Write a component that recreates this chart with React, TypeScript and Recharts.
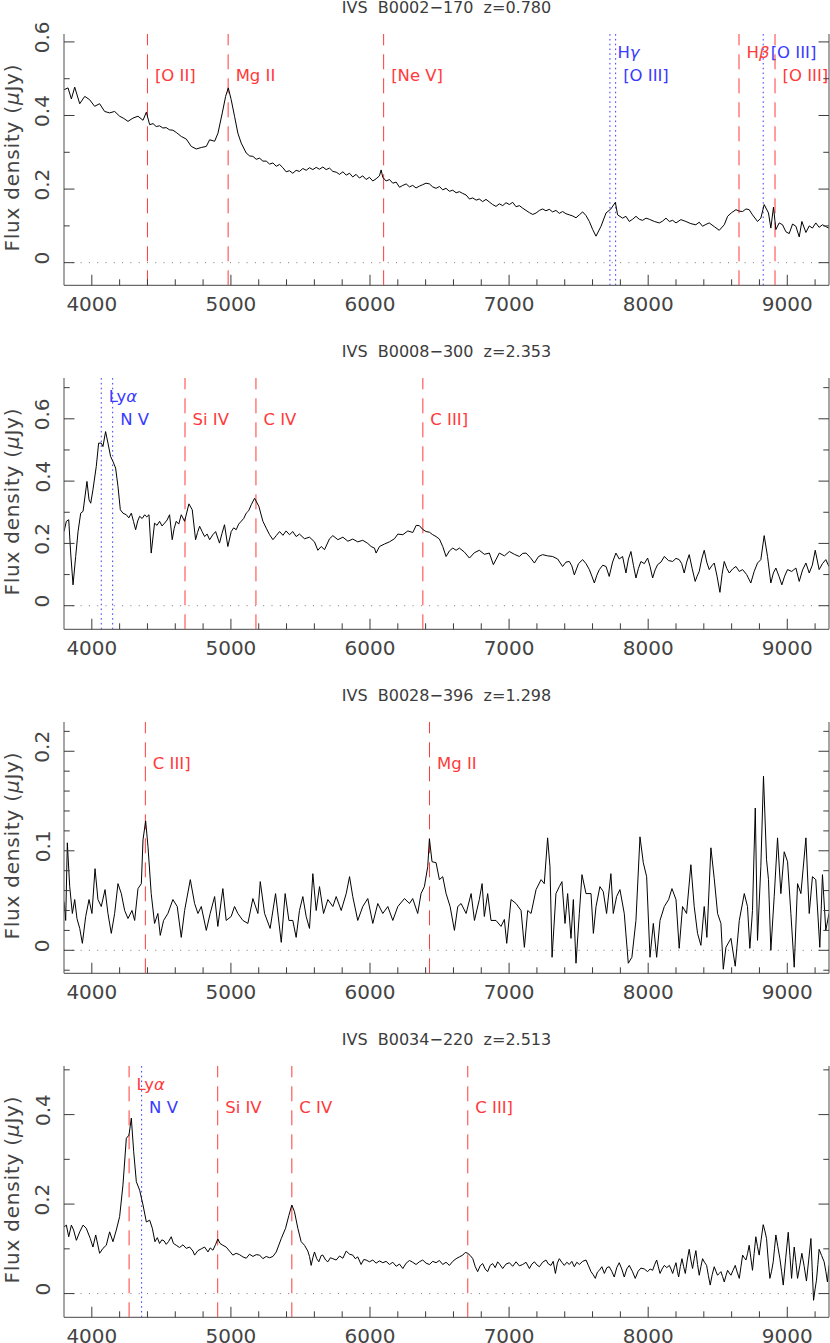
import React from 'react';
import { LineChart, Line, XAxis, YAxis, ReferenceLine } from 'recharts';

const FONT = '"DejaVu Sans", "Liberation Sans", sans-serif';
const TEXT = '#444444';
const FRAME = '#6b6b6b';
const TICK = '#3a3a3a';
const RED = '#ff3a3a';
const BLUE = '#3a3aff';

// ---------- axes ----------
const X_DOMAIN = [3800, 9300];
const X_MAJOR = [4000, 5000, 6000, 7000, 8000, 9000];
const X_MINOR = [4200, 4400, 4600, 4800, 5200, 5400, 5600, 5800, 6200, 6400, 6600, 6800, 7200, 7400, 7600, 7800, 8200, 8400, 8600, 8800, 9200];

// ---------- panel 1 : IVS B0002-170 ([wavelength Å, flux μJy]) ----------
const P1_TITLE = 'IVS  B0002−170  z=0.780';
const P1_Y_DOMAIN = [-0.0615, 0.6215];
const P1_Y_MAJOR = [0, 0.2, 0.4, 0.6];
const P1_Y_MINOR = [0.1, 0.3, 0.5];
const P1_SPECTRUM: [number, number][] = [
  [3800, 0.470], [3829, 0.475], [3853, 0.445], [3877, 0.477], [3913, 0.432], [3949, 0.452], [3984, 0.443], [4020, 0.425],
  [4056, 0.432], [4092, 0.411], [4128, 0.407], [4164, 0.411], [4200, 0.398], [4230, 0.392], [4260, 0.384], [4296, 0.393],
  [4332, 0.398], [4368, 0.387], [4392, 0.409], [4416, 0.375], [4440, 0.378], [4463, 0.370], [4487, 0.372], [4511, 0.366],
  [4535, 0.367], [4559, 0.361], [4583, 0.360], [4607, 0.354], [4643, 0.343], [4679, 0.336], [4715, 0.316], [4751, 0.309],
  [4787, 0.313], [4823, 0.316], [4847, 0.334], [4883, 0.330], [4907, 0.352], [4938, 0.407], [4962, 0.452], [4981, 0.475],
  [5002, 0.443], [5026, 0.398], [5050, 0.352], [5074, 0.325], [5110, 0.298], [5135, 0.290], [5158, 0.289], [5182, 0.281],
  [5206, 0.284], [5230, 0.276], [5254, 0.276], [5278, 0.268], [5302, 0.271], [5326, 0.262], [5350, 0.267], [5374, 0.258],
  [5397, 0.247], [5421, 0.250], [5445, 0.243], [5469, 0.251], [5493, 0.248], [5517, 0.256], [5541, 0.251], [5565, 0.258],
  [5589, 0.253], [5613, 0.259], [5637, 0.254], [5661, 0.260], [5685, 0.253], [5709, 0.257], [5733, 0.248], [5757, 0.246],
  [5781, 0.240], [5805, 0.247], [5829, 0.238], [5853, 0.243], [5876, 0.233], [5900, 0.240], [5924, 0.230], [5948, 0.236],
  [5972, 0.226], [5996, 0.232], [6020, 0.222], [6044, 0.228], [6068, 0.236], [6080, 0.252], [6092, 0.232], [6116, 0.222],
  [6140, 0.226], [6164, 0.216], [6188, 0.219], [6212, 0.205], [6236, 0.210], [6260, 0.214], [6284, 0.206], [6307, 0.210],
  [6331, 0.203], [6355, 0.208], [6379, 0.212], [6403, 0.216], [6427, 0.214], [6451, 0.206], [6475, 0.202], [6499, 0.207],
  [6523, 0.198], [6547, 0.202], [6571, 0.194], [6595, 0.197], [6619, 0.190], [6643, 0.193], [6667, 0.188], [6691, 0.184],
  [6715, 0.173], [6739, 0.176], [6763, 0.170], [6786, 0.173], [6810, 0.166], [6834, 0.172], [6858, 0.165], [6882, 0.158],
  [6906, 0.153], [6930, 0.160], [6954, 0.155], [6978, 0.163], [7002, 0.158], [7026, 0.164], [7050, 0.152], [7074, 0.155],
  [7098, 0.148], [7122, 0.142], [7146, 0.136], [7170, 0.131], [7194, 0.135], [7218, 0.142], [7241, 0.146], [7265, 0.141],
  [7289, 0.145], [7313, 0.138], [7337, 0.142], [7361, 0.134], [7385, 0.139], [7409, 0.133], [7433, 0.130], [7457, 0.127],
  [7481, 0.122], [7505, 0.130], [7529, 0.138], [7553, 0.128], [7577, 0.112], [7601, 0.090], [7625, 0.072], [7661, 0.099],
  [7697, 0.135], [7732, 0.146], [7764, 0.164], [7780, 0.130], [7816, 0.121], [7840, 0.126], [7864, 0.112], [7888, 0.118],
  [7912, 0.126], [7936, 0.118], [7960, 0.115], [7984, 0.121], [8008, 0.118], [8044, 0.112], [8080, 0.108], [8104, 0.113],
  [8128, 0.121], [8152, 0.112], [8176, 0.115], [8200, 0.108], [8235, 0.117], [8271, 0.112], [8307, 0.106], [8343, 0.103],
  [8367, 0.110], [8391, 0.099], [8415, 0.104], [8439, 0.108], [8475, 0.098], [8511, 0.088], [8547, 0.103], [8571, 0.126],
  [8600, 0.136], [8631, 0.144], [8655, 0.140], [8679, 0.139], [8703, 0.146], [8726, 0.144], [8750, 0.130], [8786, 0.112],
  [8810, 0.121], [8834, 0.158], [8865, 0.135], [8882, 0.094], [8901, 0.151], [8918, 0.090], [8942, 0.108], [8966, 0.103],
  [8990, 0.084], [9014, 0.079], [9038, 0.105], [9062, 0.099], [9086, 0.070], [9105, 0.112], [9134, 0.082], [9158, 0.100],
  [9181, 0.094], [9205, 0.108], [9229, 0.096], [9253, 0.103], [9277, 0.098], [9300, 0.094],
];
const P1_MARKS = [
  { w: 4400, name: '[O II]', color: 'red', row: 2 },
  { w: 4980, name: 'Mg II', color: 'red', row: 2 },
  { w: 6098, name: '[Ne V]', color: 'red', row: 2 },
  { w: 7725, name: 'Hγ', color: 'blue', row: 1 },
  { w: 7766, name: '[O III]', color: 'blue', row: 2 },
  { w: 8653, name: 'Hβ', color: 'red', row: 1 },
  { w: 8827, name: '[O III]', color: 'blue', row: 1 },
  { w: 8912, name: '[O III]', color: 'red', row: 2 },
];

// ---------- panel 2 : IVS B0008-300 ----------
const P2_TITLE = 'IVS  B0008−300  z=2.353';
const P2_Y_DOMAIN = [-0.0757, 0.731];
const P2_Y_MAJOR = [0, 0.2, 0.4, 0.6];
const P2_Y_MINOR = [0.1, 0.3, 0.5, 0.7];
const P2_SPECTRUM: [number, number][] = [
  [3800, 0.238], [3817, 0.271], [3834, 0.276], [3848, 0.169], [3865, 0.067], [3884, 0.158], [3901, 0.238], [3920, 0.297],
  [3937, 0.303], [3965, 0.399], [3980, 0.340], [3992, 0.329], [4008, 0.372], [4032, 0.447], [4049, 0.522], [4068, 0.522],
  [4080, 0.511], [4099, 0.559], [4116, 0.522], [4135, 0.479], [4152, 0.463], [4171, 0.442], [4188, 0.383], [4205, 0.308],
  [4224, 0.297], [4248, 0.292], [4266, 0.282], [4284, 0.297], [4300, 0.270], [4315, 0.244], [4330, 0.272], [4344, 0.287],
  [4362, 0.280], [4380, 0.292], [4395, 0.285], [4411, 0.292], [4427, 0.169], [4451, 0.265], [4469, 0.258], [4487, 0.271],
  [4505, 0.256], [4523, 0.265], [4541, 0.275], [4559, 0.292], [4578, 0.212], [4592, 0.248], [4607, 0.271], [4625, 0.262],
  [4643, 0.292], [4667, 0.271], [4698, 0.327], [4722, 0.308], [4746, 0.212], [4760, 0.235], [4775, 0.255], [4793, 0.238],
  [4811, 0.222], [4829, 0.230], [4847, 0.212], [4870, 0.228], [4890, 0.238], [4918, 0.201], [4936, 0.232], [4954, 0.260],
  [4978, 0.190], [5002, 0.238], [5020, 0.250], [5038, 0.244], [5056, 0.262], [5074, 0.271], [5092, 0.280], [5110, 0.297],
  [5128, 0.305], [5146, 0.324], [5170, 0.345], [5201, 0.319], [5230, 0.271], [5254, 0.249], [5278, 0.228], [5302, 0.212],
  [5326, 0.225], [5350, 0.238], [5374, 0.226], [5397, 0.240], [5421, 0.228], [5445, 0.238], [5469, 0.222], [5493, 0.230],
  [5529, 0.215], [5565, 0.220], [5601, 0.205], [5625, 0.178], [5649, 0.190], [5673, 0.180], [5709, 0.215], [5733, 0.225],
  [5769, 0.212], [5805, 0.220], [5841, 0.207], [5876, 0.214], [5912, 0.205], [5948, 0.210], [5984, 0.200], [6008, 0.190],
  [6032, 0.185], [6044, 0.169], [6068, 0.190], [6104, 0.198], [6140, 0.205], [6176, 0.215], [6200, 0.230], [6236, 0.228],
  [6272, 0.240], [6308, 0.235], [6332, 0.258], [6355, 0.257], [6379, 0.245], [6403, 0.238], [6427, 0.236], [6451, 0.228],
  [6475, 0.222], [6499, 0.214], [6523, 0.190], [6547, 0.158], [6571, 0.176], [6595, 0.185], [6619, 0.178], [6643, 0.185],
  [6679, 0.172], [6715, 0.153], [6750, 0.170], [6786, 0.178], [6822, 0.165], [6858, 0.169], [6887, 0.132], [6930, 0.169],
  [6966, 0.160], [7002, 0.174], [7038, 0.165], [7074, 0.158], [7098, 0.168], [7122, 0.169], [7152, 0.155], [7182, 0.137],
  [7212, 0.158], [7241, 0.164], [7277, 0.160], [7313, 0.158], [7349, 0.150], [7385, 0.126], [7409, 0.140], [7433, 0.142],
  [7451, 0.128], [7469, 0.099], [7499, 0.135], [7529, 0.148], [7553, 0.135], [7577, 0.116], [7595, 0.095], [7613, 0.073],
  [7631, 0.098], [7649, 0.116], [7673, 0.130], [7697, 0.126], [7720, 0.094], [7744, 0.140], [7768, 0.169], [7792, 0.150],
  [7816, 0.158], [7840, 0.105], [7858, 0.150], [7876, 0.174], [7894, 0.130], [7912, 0.089], [7930, 0.120], [7948, 0.142],
  [7972, 0.135], [7996, 0.153], [8014, 0.125], [8032, 0.089], [8050, 0.115], [8068, 0.132], [8092, 0.140], [8116, 0.158],
  [8146, 0.145], [8176, 0.142], [8200, 0.152], [8223, 0.148], [8241, 0.135], [8259, 0.105], [8277, 0.140], [8295, 0.164],
  [8316, 0.120], [8338, 0.078], [8352, 0.095], [8367, 0.110], [8385, 0.150], [8403, 0.178], [8421, 0.140], [8439, 0.116],
  [8457, 0.128], [8475, 0.137], [8495, 0.095], [8516, 0.043], [8531, 0.100], [8547, 0.142], [8565, 0.120], [8583, 0.105],
  [8607, 0.118], [8631, 0.126], [8655, 0.110], [8679, 0.116], [8708, 0.100], [8738, 0.073], [8762, 0.110], [8786, 0.137],
  [8810, 0.148], [8834, 0.225], [8858, 0.158], [8882, 0.073], [8900, 0.105], [8918, 0.121], [8940, 0.095], [8961, 0.067],
  [8981, 0.095], [9002, 0.116], [9032, 0.110], [9062, 0.121], [9086, 0.078], [9110, 0.115], [9134, 0.137], [9158, 0.105],
  [9180, 0.130], [9201, 0.178], [9229, 0.116], [9253, 0.135], [9277, 0.148], [9300, 0.126],
];
const P2_MARKS = [
  { w: 4068, name: 'Lyα', color: 'blue', row: 1 },
  { w: 4150, name: 'N V', color: 'blue', row: 2 },
  { w: 4670, name: 'Si IV', color: 'red', row: 2 },
  { w: 5180, name: 'C IV', color: 'red', row: 2 },
  { w: 6380, name: 'C III]', color: 'red', row: 2 },
];

// ---------- panel 3 : IVS B0028-396 ----------
const P3_TITLE = 'IVS  B0028−396  z=1.298';
const P3_Y_DOMAIN = [-0.0231, 0.2294];
const P3_Y_MAJOR = [0, 0.1, 0.2];
const P3_Y_MINOR = [-0.02, 0.02, 0.04, 0.06, 0.08, 0.12, 0.14, 0.16, 0.18, 0.22];
const P3_SPECTRUM: [number, number][] = [
  [3800, 0.049], [3812, 0.030], [3824, 0.108], [3841, 0.064], [3860, 0.037], [3877, 0.051], [3893, 0.032], [3913, 0.022],
  [3932, 0.007], [3956, 0.034], [3980, 0.051], [4001, 0.037], [4023, 0.082], [4044, 0.051], [4068, 0.044], [4095, 0.061],
  [4116, 0.037], [4140, 0.017], [4164, 0.037], [4188, 0.067], [4212, 0.057], [4236, 0.040], [4260, 0.032], [4289, 0.040],
  [4308, 0.030], [4332, 0.062], [4356, 0.067], [4368, 0.111], [4387, 0.130], [4404, 0.104], [4427, 0.057], [4451, 0.027],
  [4475, 0.037], [4492, 0.015], [4516, 0.030], [4547, 0.037], [4583, 0.051], [4614, 0.044], [4643, 0.013], [4667, 0.040],
  [4708, 0.071], [4739, 0.047], [4763, 0.037], [4787, 0.044], [4823, 0.020], [4851, 0.037], [4883, 0.054], [4906, 0.024],
  [4942, 0.062], [4966, 0.030], [5002, 0.034], [5026, 0.044], [5050, 0.037], [5086, 0.030], [5122, 0.027], [5158, 0.052],
  [5194, 0.037], [5211, 0.069], [5242, 0.037], [5282, 0.022], [5321, 0.057], [5362, 0.008], [5390, 0.057], [5417, 0.030],
  [5445, 0.030], [5469, 0.013], [5493, 0.040], [5517, 0.054], [5541, 0.034], [5565, 0.022], [5589, 0.077], [5613, 0.040],
  [5637, 0.064], [5666, 0.037], [5697, 0.051], [5733, 0.044], [5757, 0.054], [5793, 0.040], [5829, 0.057], [5853, 0.074],
  [5876, 0.054], [5912, 0.030], [5948, 0.044], [5984, 0.052], [6020, 0.027], [6056, 0.047], [6092, 0.037], [6128, 0.044],
  [6164, 0.030], [6200, 0.044], [6248, 0.052], [6284, 0.047], [6307, 0.052], [6343, 0.037], [6367, 0.057], [6391, 0.064],
  [6415, 0.084], [6427, 0.112], [6446, 0.089], [6475, 0.088], [6499, 0.071], [6523, 0.074], [6547, 0.057], [6576, 0.044],
  [6607, 0.020], [6631, 0.044], [6655, 0.047], [6691, 0.037], [6727, 0.057], [6751, 0.030], [6786, 0.051], [6806, 0.067],
  [6822, 0.034], [6846, 0.057], [6870, 0.030], [6906, 0.030], [6942, 0.024], [6966, 0.031], [6983, 0.007], [7014, 0.051],
  [7050, 0.047], [7086, 0.040], [7110, 0.003], [7134, 0.040], [7158, 0.037], [7194, 0.061], [7230, 0.071], [7253, 0.067],
  [7277, 0.113], [7294, 0.084], [7309, -0.007], [7337, 0.057], [7361, 0.064], [7380, 0.069], [7402, 0.027], [7421, 0.057],
  [7445, 0.012], [7462, 0.051], [7481, -0.013], [7505, 0.037], [7524, 0.076], [7553, 0.057], [7589, 0.057], [7606, 0.017],
  [7625, 0.044], [7653, 0.064], [7677, 0.059], [7701, 0.037], [7732, 0.077], [7749, 0.037], [7773, 0.054], [7797, 0.061],
  [7828, 0.037], [7857, -0.013], [7883, -0.007], [7912, 0.030], [7941, 0.114], [7965, 0.088], [7989, 0.074], [8013, -0.007],
  [8037, 0.027], [8061, -0.007], [8085, 0.030], [8116, 0.044], [8147, 0.051], [8171, 0.062], [8200, 0.051], [8223, 0.002],
  [8247, 0.044], [8276, 0.037], [8307, 0.086], [8331, 0.044], [8355, 0.017], [8379, 0.005], [8403, 0.044], [8422, 0.013],
  [8451, 0.103], [8475, 0.072], [8499, 0.037], [8523, 0.027], [8540, -0.019], [8559, 0.003], [8595, 0.012], [8626, -0.016],
  [8655, 0.030], [8691, 0.057], [8714, 0.044], [8731, 0.002], [8750, 0.040], [8770, 0.143], [8786, 0.010], [8810, 0.084],
  [8829, 0.175], [8851, 0.091], [8865, 0.071], [8882, 0.000], [8906, 0.054], [8930, 0.113], [8954, 0.057], [8978, 0.099],
  [9002, 0.089], [9026, 0.037], [9050, -0.017], [9074, 0.067], [9098, 0.057], [9134, 0.113], [9158, 0.037], [9181, 0.074],
  [9205, 0.071], [9234, 0.003], [9253, 0.076], [9277, 0.020], [9300, 0.037],
];
const P3_MARKS = [
  { w: 4385, name: 'C III]', color: 'red', row: 2 },
  { w: 6428, name: 'Mg II', color: 'red', row: 2 },
];

// ---------- panel 4 : IVS B0034-220 ----------
const P4_TITLE = 'IVS  B0034−220  z=2.513';
const P4_Y_DOMAIN = [-0.053, 0.5086];
const P4_Y_MAJOR = [0, 0.2, 0.4];
const P4_Y_MINOR = [0.1, 0.3, 0.5];
const P4_SPECTRUM: [number, number][] = [
  [3800, 0.149], [3817, 0.153], [3834, 0.127], [3853, 0.153], [3869, 0.142], [3889, 0.119], [3913, 0.138], [3937, 0.153],
  [3960, 0.146], [3989, 0.123], [4008, 0.104], [4028, 0.131], [4056, 0.090], [4080, 0.101], [4104, 0.108], [4128, 0.138],
  [4152, 0.116], [4176, 0.142], [4200, 0.172], [4224, 0.243], [4248, 0.347], [4267, 0.354], [4284, 0.392], [4301, 0.317],
  [4320, 0.250], [4344, 0.231], [4368, 0.198], [4392, 0.160], [4416, 0.164], [4435, 0.146], [4454, 0.116], [4471, 0.125],
  [4487, 0.112], [4503, 0.120], [4519, 0.118], [4535, 0.110], [4551, 0.116], [4571, 0.127], [4587, 0.112], [4607, 0.108],
  [4631, 0.103], [4655, 0.109], [4679, 0.101], [4703, 0.104], [4727, 0.095], [4739, 0.086], [4763, 0.096], [4787, 0.100],
  [4811, 0.104], [4835, 0.093], [4851, 0.102], [4871, 0.097], [4890, 0.110], [4906, 0.122], [4922, 0.112], [4942, 0.108],
  [4966, 0.104], [4990, 0.095], [5014, 0.086], [5038, 0.090], [5062, 0.087], [5086, 0.082], [5110, 0.079], [5134, 0.088],
  [5158, 0.083], [5182, 0.087], [5206, 0.086], [5230, 0.078], [5254, 0.083], [5278, 0.080], [5302, 0.083], [5326, 0.093],
  [5362, 0.123], [5393, 0.146], [5417, 0.175], [5438, 0.198], [5457, 0.183], [5481, 0.146], [5505, 0.116], [5529, 0.108],
  [5553, 0.095], [5565, 0.083], [5577, 0.063], [5589, 0.080], [5601, 0.093], [5617, 0.078], [5632, 0.071], [5649, 0.085],
  [5661, 0.086], [5681, 0.075], [5697, 0.071], [5715, 0.080], [5733, 0.078], [5757, 0.075], [5781, 0.084], [5805, 0.079],
  [5829, 0.095], [5853, 0.088], [5876, 0.086], [5894, 0.078], [5912, 0.082], [5936, 0.065], [5955, 0.076], [5972, 0.075],
  [5996, 0.071], [6020, 0.075], [6044, 0.068], [6068, 0.073], [6092, 0.069], [6116, 0.072], [6140, 0.065], [6164, 0.070],
  [6188, 0.061], [6212, 0.066], [6236, 0.056], [6260, 0.068], [6284, 0.074], [6307, 0.070], [6331, 0.065], [6355, 0.071],
  [6379, 0.075], [6403, 0.068], [6427, 0.065], [6451, 0.072], [6475, 0.069], [6499, 0.074], [6523, 0.065], [6547, 0.070],
  [6571, 0.063], [6595, 0.072], [6619, 0.078], [6643, 0.082], [6667, 0.086], [6685, 0.092], [6703, 0.090], [6721, 0.085],
  [6739, 0.078], [6757, 0.060], [6774, 0.049], [6792, 0.062], [6810, 0.067], [6828, 0.055], [6846, 0.049], [6864, 0.063],
  [6882, 0.067], [6900, 0.058], [6918, 0.071], [6936, 0.064], [6954, 0.056], [6978, 0.066], [7002, 0.069], [7026, 0.061],
  [7050, 0.071], [7074, 0.062], [7098, 0.065], [7122, 0.070], [7146, 0.056], [7164, 0.066], [7182, 0.071], [7200, 0.064],
  [7218, 0.060], [7241, 0.070], [7265, 0.075], [7283, 0.066], [7301, 0.063], [7317, 0.072], [7333, 0.045], [7347, 0.068],
  [7361, 0.078], [7379, 0.070], [7397, 0.063], [7415, 0.070], [7433, 0.065], [7451, 0.072], [7469, 0.060], [7487, 0.070],
  [7505, 0.065], [7529, 0.072], [7553, 0.075], [7571, 0.062], [7589, 0.049], [7605, 0.042], [7620, 0.034], [7635, 0.048],
  [7649, 0.052], [7667, 0.060], [7685, 0.045], [7703, 0.058], [7720, 0.060], [7738, 0.050], [7756, 0.037], [7774, 0.058],
  [7792, 0.069], [7810, 0.055], [7828, 0.037], [7846, 0.055], [7864, 0.063], [7886, 0.050], [7907, 0.034], [7928, 0.050],
  [7948, 0.057], [7972, 0.055], [7996, 0.049], [8014, 0.055], [8032, 0.052], [8047, 0.065], [8061, 0.075], [8073, 0.060],
  [8085, 0.045], [8100, 0.055], [8116, 0.063], [8134, 0.058], [8152, 0.063], [8164, 0.055], [8176, 0.045], [8188, 0.058],
  [8200, 0.069], [8210, 0.050], [8219, 0.037], [8231, 0.060], [8243, 0.078], [8255, 0.060], [8267, 0.045], [8281, 0.075],
  [8295, 0.099], [8307, 0.075], [8319, 0.056], [8331, 0.078], [8343, 0.096], [8355, 0.065], [8367, 0.041], [8379, 0.060],
  [8391, 0.078], [8405, 0.070], [8420, 0.063], [8433, 0.040], [8446, 0.019], [8460, 0.042], [8475, 0.060], [8487, 0.050],
  [8499, 0.041], [8511, 0.045], [8523, 0.049], [8535, 0.038], [8547, 0.026], [8559, 0.040], [8571, 0.052], [8583, 0.046],
  [8595, 0.041], [8610, 0.052], [8626, 0.063], [8640, 0.048], [8655, 0.034], [8667, 0.060], [8679, 0.086], [8691, 0.080],
  [8703, 0.075], [8715, 0.090], [8726, 0.108], [8738, 0.080], [8750, 0.052], [8762, 0.090], [8774, 0.127], [8786, 0.105],
  [8798, 0.086], [8812, 0.120], [8827, 0.154], [8839, 0.140], [8851, 0.123], [8863, 0.075], [8875, 0.034], [8887, 0.050],
  [8899, 0.071], [8908, 0.100], [8918, 0.131], [8932, 0.105], [8947, 0.078], [8959, 0.050], [8971, 0.019], [8989, 0.080],
  [9007, 0.137], [9019, 0.085], [9031, 0.034], [9040, 0.070], [9050, 0.104], [9062, 0.070], [9074, 0.034], [9090, 0.062],
  [9105, 0.090], [9122, 0.060], [9138, 0.028], [9154, 0.075], [9170, 0.123], [9180, 0.050], [9189, -0.015], [9200, 0.010],
  [9210, 0.030], [9220, 0.065], [9229, 0.099], [9247, 0.085], [9265, 0.071], [9277, 0.050], [9289, 0.026], [9300, 0.063],
];
const P4_MARKS = [
  { w: 4268, name: 'Lyα', color: 'red', row: 1 },
  { w: 4358, name: 'N V', color: 'blue', row: 2 },
  { w: 4905, name: 'Si IV', color: 'red', row: 2 },
  { w: 5438, name: 'C IV', color: 'red', row: 2 },
  { w: 6703, name: 'C III]', color: 'red', row: 2 },
];

// ---------- layout ----------
const PLOT_TOPS = [34.3, 378.2, 721.8, 1065.6];
const PLOT_H = 251.3;
const MARGIN_TOP = 34;
const XAXIS_H = 40;
const CHART_W = 830;
const CHART_H = MARGIN_TOP + PLOT_H + XAXIS_H;

const GREEK = /[αβγ]$/;

function markText(name: string) {
  if (GREEK.test(name)) {
    return (
      <>
        {name.slice(0, -1)}
        <tspan fontStyle="italic">{name.slice(-1)}</tspan>
      </>
    );
  }
  return name;
}

type Mark = { w: number; name: string; color: string; row: number };

type PanelProps = {
  title: string;
  spectrum: [number, number][];
  yDomain: number[];
  yMajor: number[];
  yMinor: number[];
  marks: Mark[];
  top: number;
};

function Panel({ title, spectrum, yDomain, yMajor, yMinor, marks, top }: PanelProps) {
  const data = spectrum.map(([w, f]) => ({ w, f }));
  const xTicks = [...X_MAJOR, ...X_MINOR].sort((a, b) => a - b);
  const yTicks = [...yMajor, ...yMinor].sort((a, b) => a - b);

  const bottomTick = (p: any) => {
    const { x, y, payload } = p;
    const major = X_MAJOR.includes(payload.value);
    return (
      <g>
        <line x1={x} x2={x} y1={y} y2={y - (major ? 10.5 : 6)} stroke={TICK} strokeWidth={1} />
        {major && (
          <text x={x} y={y + 25.8} textAnchor="middle" fontFamily={FONT} fontSize={20} fill={TEXT}>
            {String(payload.value)}
          </text>
        )}
      </g>
    );
  };
  const topTick = (p: any) => {
    const { x, y, payload } = p;
    const major = X_MAJOR.includes(payload.value);
    return <line x1={x} x2={x} y1={y} y2={y + (major ? 10.5 : 6)} stroke={TICK} strokeWidth={1} />;
  };
  const leftTick = (p: any) => {
    const { x, y, payload } = p;
    const major = yMajor.includes(payload.value);
    const tx = x - 14.5;
    const ty = y - 4.5;
    return (
      <g>
        <line x1={x} x2={x + (major ? 10.5 : 5.7)} y1={y} y2={y} stroke={TICK} strokeWidth={1} />
        {major && (
          <text x={tx} y={ty} transform={`rotate(-90 ${tx} ${ty})`} textAnchor="middle" fontFamily={FONT} fontSize={20} fill={TEXT}>
            {String(payload.value)}
          </text>
        )}
      </g>
    );
  };
  const rightTick = (p: any) => {
    const { x, y, payload } = p;
    const major = yMajor.includes(payload.value);
    return <line x1={x} x2={x - (major ? 10.5 : 5.7)} y1={y} y2={y} stroke={TICK} strokeWidth={1} />;
  };
  const yTitle = (p: any) => {
    const vb = p.viewBox || { x: 0, y: MARGIN_TOP, width: 64, height: PLOT_H };
    const cx = vb.x + 19.5;
    const cy = vb.y + vb.height / 2 - 2;
    return (
      <text x={cx} y={cy} transform={`rotate(-90 ${cx} ${cy})`} textAnchor="middle" fontFamily={FONT} fontSize={20} fill={TEXT} letterSpacing={0.8}>
        Flux density (<tspan fontStyle="italic">μ</tspan>Jy)
      </text>
    );
  };

  return (
    <div style={{ position: 'absolute', left: 0, top: top - MARGIN_TOP, width: CHART_W, height: CHART_H }}>
      <div
        style={{
          position: 'absolute',
          left: 64,
          width: 765,
          top: 0,
          height: 16,
          lineHeight: '16px',
          textAlign: 'center',
          fontFamily: FONT,
          fontSize: 16,
          color: '#3c3c3c',
          whiteSpace: 'pre',
        }}
      >
        {title}
      </div>
      <LineChart width={CHART_W} height={CHART_H} data={data} margin={{ top: MARGIN_TOP, right: 0, bottom: 0, left: 0 }}>
        <XAxis
          xAxisId="b"
          dataKey="w"
          type="number"
          domain={X_DOMAIN}
          allowDataOverflow
          ticks={xTicks}
          interval={0}
          tickSize={0}
          tickMargin={0}
          tickLine={false}
          tick={bottomTick}
          height={XAXIS_H}
          axisLine={{ stroke: FRAME, strokeWidth: 1.2 }}
        />
        <XAxis
          xAxisId="t"
          orientation="top"
          dataKey="w"
          type="number"
          domain={X_DOMAIN}
          allowDataOverflow
          ticks={xTicks}
          interval={0}
          tickSize={0}
          tickMargin={0}
          tickLine={false}
          tick={topTick}
          height={0}
          axisLine={{ stroke: FRAME, strokeWidth: 1.2 }}
        />
        <YAxis
          yAxisId="l"
          type="number"
          domain={yDomain}
          allowDataOverflow
          ticks={yTicks}
          interval={0}
          tickSize={0}
          tickMargin={0}
          tickLine={false}
          tick={leftTick}
          width={64}
          axisLine={{ stroke: FRAME, strokeWidth: 1.2 }}
          label={{ content: yTitle }}
        />
        <YAxis
          yAxisId="r"
          orientation="right"
          type="number"
          domain={yDomain}
          allowDataOverflow
          ticks={yTicks}
          interval={0}
          tickSize={0}
          tickMargin={0}
          tickLine={false}
          tick={rightTick}
          width={1}
          axisLine={{ stroke: FRAME, strokeWidth: 1.2 }}
        />
        <ReferenceLine xAxisId="b" yAxisId="l" y={0} stroke="#777777" strokeWidth={1} strokeDasharray="1 7.3" />
        {marks.map((m, i) => {
          const col = m.color === 'red' ? RED : BLUE;
          const dash = m.color === 'red' ? '15 9' : '1.6 3.2';
          return (
            <ReferenceLine
              key={i}
              xAxisId="b"
              yAxisId="l"
              x={m.w}
              stroke={col}
              strokeWidth={1}
              strokeDasharray={dash}
              label={{
                content: (p: any) => {
                  const vb = p.viewBox || { x: 0, y: MARGIN_TOP };
                  return (
                    <text
                      x={vb.x + 7.5}
                      y={vb.y + (m.row === 1 ? 24.5 : 47.5)}
                      fontFamily={FONT}
                      fontSize={16.5}
                      fill={col}
                      style={{ whiteSpace: 'pre' }}
                    >
                      {markText(m.name)}
                    </text>
                  );
                },
              }}
            />
          );
        })}
        <Line
          xAxisId="b"
          yAxisId="l"
          dataKey="f"
          type="linear"
          stroke="#000000"
          strokeWidth={1}
          dot={false}
          activeDot={false}
          isAnimationActive={false}
        />
      </LineChart>
    </div>
  );
}

export default function App() {
  return (
    <div style={{ position: 'absolute', left: 0, top: 0, width: 830, height: 1343, background: '#ffffff' }}>
      <Panel title={P1_TITLE} spectrum={P1_SPECTRUM} yDomain={P1_Y_DOMAIN} yMajor={P1_Y_MAJOR} yMinor={P1_Y_MINOR} marks={P1_MARKS} top={PLOT_TOPS[0]} />
      <Panel title={P2_TITLE} spectrum={P2_SPECTRUM} yDomain={P2_Y_DOMAIN} yMajor={P2_Y_MAJOR} yMinor={P2_Y_MINOR} marks={P2_MARKS} top={PLOT_TOPS[1]} />
      <Panel title={P3_TITLE} spectrum={P3_SPECTRUM} yDomain={P3_Y_DOMAIN} yMajor={P3_Y_MAJOR} yMinor={P3_Y_MINOR} marks={P3_MARKS} top={PLOT_TOPS[2]} />
      <Panel title={P4_TITLE} spectrum={P4_SPECTRUM} yDomain={P4_Y_DOMAIN} yMajor={P4_Y_MAJOR} yMinor={P4_Y_MINOR} marks={P4_MARKS} top={PLOT_TOPS[3]} />
    </div>
  );
}
